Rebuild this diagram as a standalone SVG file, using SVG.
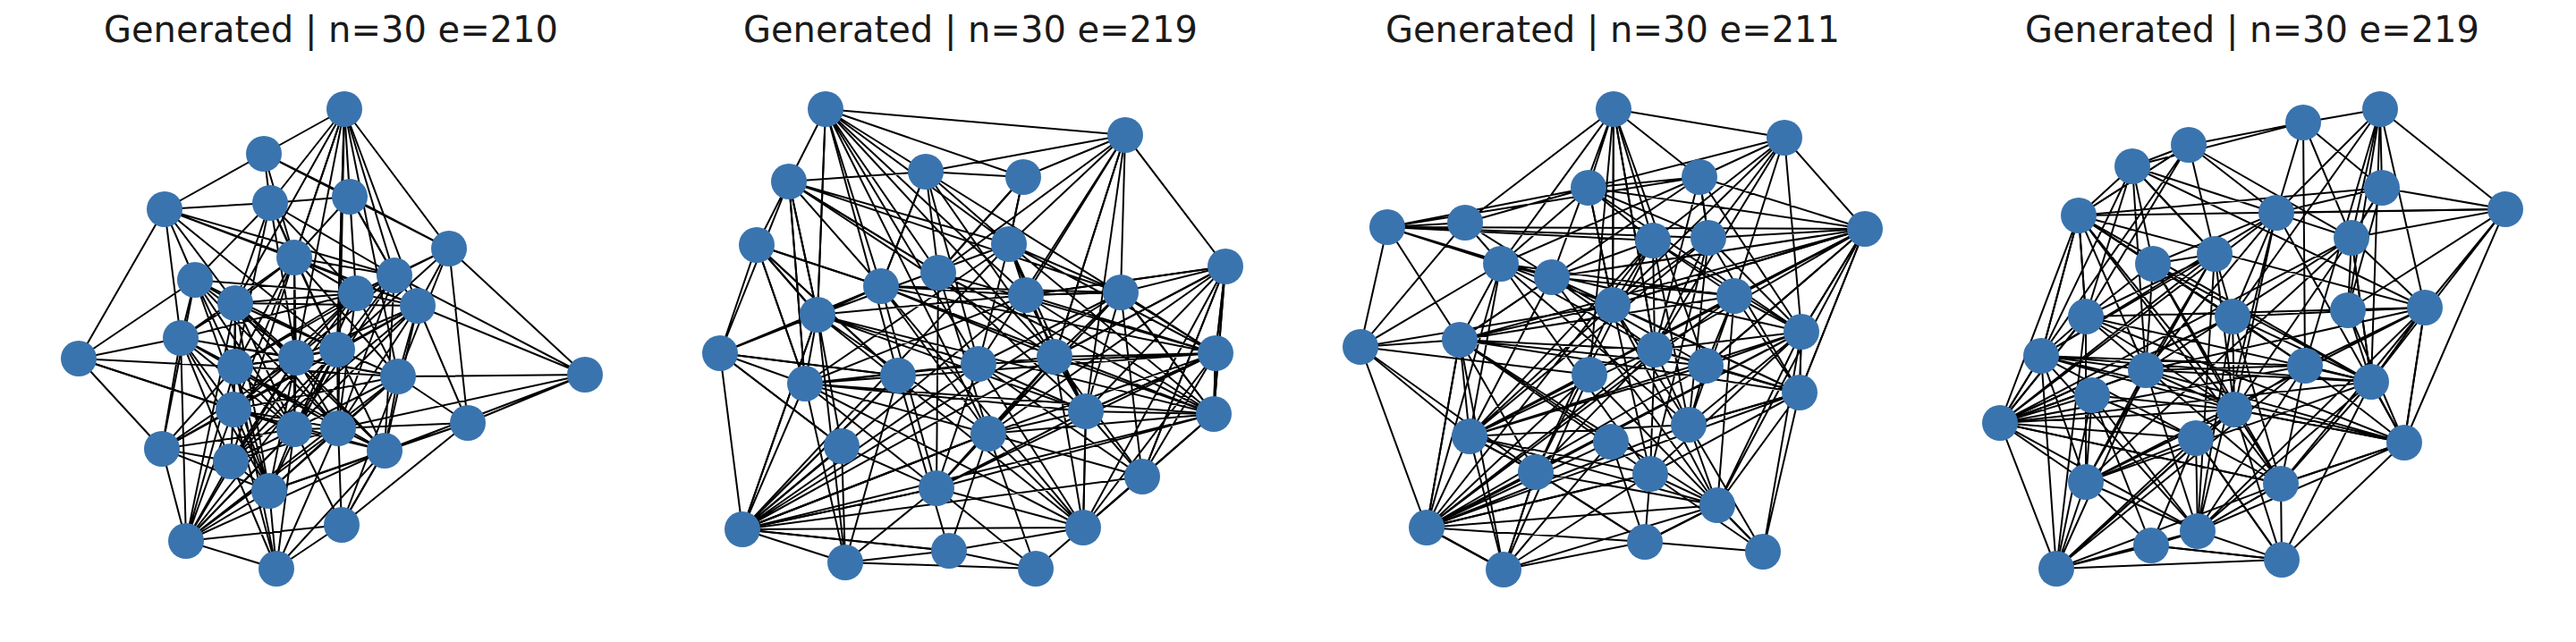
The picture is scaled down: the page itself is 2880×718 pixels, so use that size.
<svg xmlns="http://www.w3.org/2000/svg" width="2880" height="718" viewBox="0 0 2880 718">
<style>
.t{font-family:"DejaVu Sans","Liberation Sans",sans-serif;font-size:40px;fill:#1a1a1a;text-anchor:middle}
.e{fill:none;stroke:#000;stroke-width:2;stroke-linejoin:round;stroke-linecap:round}
.n circle{fill:#3a74ae}
</style>
<rect width="2880" height="718" fill="#fff"/>
<text class="t" x="370" y="47">Generated | n=30 e=210</text>
<text class="t" x="1085" y="47">Generated | n=30 e=219</text>
<text class="t" x="1803" y="47">Generated | n=30 e=211</text>
<text class="t" x="2518" y="47">Generated | n=30 e=219</text>
<g id="connectors">
<path class="e" d="M385 122L295 172L184 234L88 401L181 502L208 605L309 636L382 587L523 473L654 419L502 278L385 122L391 220L302 227L184 234L218 313L88 401L202 378L208 605L382 587L430 504L654 419L467 342L502 278L295 172L302 227L329 288L385 122L441 308L502 278L391 220L398 328L385 122L377 391L467 342L523 473L445 421L654 419L441 308L391 220L295 172L329 288L263 339L184 234L202 378L181 502L261 458L88 401L263 410L208 605L258 516L309 636L329 480L382 587L378 479L523 473L301 549L208 605L261 458L263 339L218 313L302 227L398 328L441 308L467 342L445 421L430 504L382 587L309 636L301 549L329 480L331 400L377 391L441 308L329 288L398 328L378 479L430 504L523 473L502 278L398 328L331 400L218 313L202 378L263 410L258 516L261 458L329 480L208 605L263 339L331 400L378 479L654 419"/>
<path class="e" d="M329 288L377 391L329 480L263 410L263 339L377 391L445 421L378 479L301 549L331 400L261 458L202 378L263 339L467 342L430 504L329 480L258 516L181 502L218 313L263 410L331 400L467 342L398 328L445 421L331 400L430 504L263 410L378 479L377 391L258 516L301 549L263 410L329 288L261 458L378 479L467 342L181 502L377 391L261 458L301 549L181 502L263 410L398 328L329 288L329 480L445 421L329 288L258 516L331 400L445 421L301 549L377 391L218 313L398 328L261 458L430 504L377 391L302 227L331 400L181 502L329 480L202 378L331 400L329 288L202 378L301 549L430 504L441 308L329 480L263 339L378 479L441 308L261 458L467 342L329 480L377 391L263 410L445 421L202 378L378 479L218 313L377 391L263 339L263 410L430 504L263 339L301 549L218 313L329 480L398 328L258 516L467 342L184 234L441 308L263 410L302 227L377 391L184 234L329 288L391 220L441 308L302 227L263 339L398 328L202 378L258 516L378 479L329 480L467 342L329 288L445 421L261 458L263 410"/>
<path class="e" d="M88 401L329 480L208 605L430 504L382 587L445 421L502 278L377 391L385 122L329 288"/>
<path class="e" d="M302 227L385 122L263 339M385 122L467 342M385 122L331 400M385 122L445 421M385 122L378 479M208 605L331 400M208 605L445 421M208 605L377 391M208 605L378 479M309 636L261 458M309 636L263 410M309 636L378 479M309 636L430 504"/>
<path class="e" d="M923 122L1258 151L1370 298L1359 395L1357 463L1277 533L1211 590L1158 636L945 629L830 592L805 395L846 274L882 203L923 122L1035 192L1258 151L1144 198L923 122L846 274L805 395L900 429L830 592L941 499L945 629L1061 616L1158 636L1277 533L1214 460L1370 298L1253 327L1258 151L1128 273L923 122L1049 305L1258 151L1147 330L1370 298L1357 463L1214 460L1359 395L1253 327L1179 399L1370 298L1277 533L1105 485L1158 636L1047 546L945 629L1004 420L805 395L882 203L985 320L923 122L1147 330L1253 327L1357 463L1211 590L1061 616L830 592L1047 546L941 499L805 395L914 352L923 122L1144 198L1035 192L882 203L914 352L846 274L985 320L1035 192L1128 273L1144 198L1049 305L882 203L900 429L846 274L1004 420L830 592L1105 485L1061 616L1211 590L1214 460L1179 399L1258 151"/>
<path class="e" d="M1128 273L1179 399L1357 463L1359 395L985 320L1179 399L900 429L1105 485L1211 590L1094 407L1214 460L914 352L985 320L1253 327L1047 546L1357 463L830 592L1277 533L1370 298L1359 395L1094 407L1253 327L1147 330L900 429L1094 407L1047 546L1359 395L1105 485L1179 399L830 592L1211 590L1359 395L1128 273L1214 460L1105 485L1253 327L1277 533L1179 399L1214 460L1211 590L1277 533L1359 395L1147 330L1128 273L1357 463L900 429L1128 273L830 592L1094 407L900 429L1211 590L1179 399L1370 298L1147 330L1214 460L1047 546L1179 399L1035 192L1094 407L1277 533L1357 463L914 352L1094 407L1128 273L914 352L1211 590L1047 546L1049 305L1357 463L985 320L1105 485L1049 305L1214 460L1253 327L1357 463L1179 399L1359 395L900 429L914 352L1105 485L1370 298L1179 399L985 320L1359 395L1047 546L985 320L1211 590L1370 298L1357 463L1147 330L830 592L1253 327L882 203L1049 305L1359 395L1035 192L1179 399L882 203L1128 273L1144 198L1049 305L1035 192L985 320L1147 330L914 352L830 592L1105 485L1357 463L1253 327L1128 273L900 429L1214 460L1359 395"/>
<path class="e" d="M805 395L1004 420L846 274L914 352L941 499L805 395L985 320L846 274L900 429L882 203L914 352L945 629L900 429L1047 546L830 592L1004 420L1061 616"/>
<path class="e" d="M914 352L923 122L1004 420M923 122L1094 407M923 122L1179 399M923 122L1105 485M830 592L1061 616M830 592L1105 485M830 592L914 352M1179 399L1258 151L1214 460M1258 151L1094 407"/>
<path class="e" d="M1804 122L1995 154L2085 256L2012 439L1971 617L1839 606L1681 637L1595 590L1521 388L1551 254L1638 249L1804 122L1776 210L1995 154L1900 198L1804 122L1848 269L1995 154L1910 266L2085 256L2014 371L1971 617L1920 565L1839 606L1717 528L1681 637L1643 488L1595 590L1632 380L1521 388L1678 295L1551 254L1776 210L1638 249L1678 295L1804 122L1735 310L1551 254L1900 198L1776 210L1848 269L1939 331L2085 256L1900 198L1910 266L1803 341L1804 122L1850 391L1995 154L1939 331L2014 371L2012 439L1920 565L1845 530L1681 637L1801 494L1595 590L1717 528L1643 488L1521 388L1638 249L1735 310L1632 380L1551 254L1848 269L1803 341L1776 210L1678 295L1632 380L1643 488L1777 419L1595 590L1839 606L1971 617L1888 475L2012 439L1907 409L2085 256L1803 341L1995 154L2014 371L1910 266"/>
<path class="e" d="M2085 256L2014 371L1643 488L1850 391L1678 295L2014 371L1907 409L1888 475L1595 590L1632 380L2012 439L1939 331L1678 295L1803 341L1845 530L1643 488L1920 565L1717 528L1848 269L1850 391L1632 380L1803 341L1735 310L1907 409L1632 380L1845 530L1850 391L1888 475L2014 371L1920 565L1595 590L1850 391L2085 256L2012 439L1888 475L1803 341L1717 528L2014 371L2012 439L1595 590L1717 528L1850 391L1735 310L2085 256L1643 488L1907 409L2085 256L1920 565L1632 380L1907 409L1595 590L2014 371L1848 269L1735 310L2012 439L1845 530L2014 371L1900 198L1632 380L1717 528L1643 488L1939 331L1632 380L2085 256L1939 331L1595 590L1845 530L1910 266L1643 488L1678 295L1888 475L1910 266L2012 439L1803 341L1643 488L2014 371L1850 391L1907 409L1939 331L1888 475L1848 269L2014 371L1678 295L1850 391L1845 530L1678 295L1595 590L1848 269L1643 488L1735 310L1920 565L1803 341L1776 210L1910 266L1850 391L1900 198L2014 371L1776 210L2085 256L1551 254L1910 266L1900 198L1678 295L1735 310L1939 331L1920 565L1888 475L1643 488L1803 341L2085 256L1907 409L2012 439L1850 391"/>
<path class="e" d="M1681 637L1777 419L1971 617L1845 530L1595 590L1681 637L1717 528L1839 606L1920 565L1681 637L1632 380L1801 494L1839 606L1845 530"/>
<path class="e" d="M1803 341L1804 122L1850 391M1804 122L1777 419M1804 122L1907 409M1521 388L1803 341M1521 388L1777 419M1521 388L1717 528"/>
<path class="e" d="M2661 122L2575 137L2447 162L2384 186L2324 241L2236 473L2299 636L2551 626L2688 495L2801 234L2661 122L2663 210L2801 234L2711 344L2688 495L2651 427L2551 626L2405 610L2299 636L2332 539L2236 473L2282 398L2324 241L2332 354L2236 473L2339 442L2299 636L2457 594L2551 626L2550 541L2688 495L2625 347L2801 234L2629 266L2661 122L2711 344L2651 427L2801 234L2545 238L2661 122L2577 409L2575 137L2384 186L2407 295L2324 241L2447 162L2545 238L2575 137L2663 210L2629 266L2711 344L2625 347L2651 427L2550 541L2498 458L2551 626L2455 490L2299 636L2399 414L2236 473L2332 539L2405 610L2457 594L2550 541L2577 409L2688 495L2498 458L2299 636L2282 398L2332 354L2384 186L2476 284L2447 162L2575 137L2629 266L2625 347L2663 210L2545 238L2496 354L2577 409L2651 427L2629 266"/>
<path class="e" d="M2324 241L2282 398L2498 458L2399 414L2476 284L2282 398L2577 409L2236 473L2457 594L2711 344L2651 427L2496 354L2476 284L2332 354L2332 539L2498 458L2550 541L2688 495L2545 238L2399 414L2711 344L2332 354L2407 295L2577 409L2711 344L2332 539L2399 414L2236 473L2282 398L2550 541L2457 594L2399 414L2324 241L2651 427L2236 473L2332 354L2688 495L2282 398L2651 427L2457 594L2688 495L2399 414L2407 295L2324 241L2498 458L2577 409L2324 241L2550 541L2711 344L2577 409L2457 594L2282 398L2545 238L2407 295L2651 427L2332 539L2282 398L2384 186L2711 344L2688 495L2498 458L2496 354L2711 344L2324 241L2496 354L2457 594L2332 539L2629 266L2498 458L2476 284L2236 473L2629 266L2651 427L2332 354L2498 458L2282 398L2399 414L2577 409L2496 354L2236 473L2545 238L2282 398L2476 284L2399 414L2332 539L2476 284L2457 594L2545 238L2498 458L2407 295L2550 541L2332 354L2447 162L2629 266L2399 414L2384 186L2282 398L2447 162L2324 241L2663 210L2629 266L2384 186L2476 284L2407 295L2496 354L2550 541L2236 473L2498 458L2332 354L2324 241L2577 409L2651 427L2399 414"/>
<path class="e" d="M2324 241L2801 234M2339 442L2455 490L2405 610L2339 442L2332 539L2455 490L2457 594L2339 442L2498 458L2455 490L2551 626L2405 610"/>
<path class="e" d="M2332 354L2299 636L2498 458M2299 636L2550 541M2299 636L2577 409M2625 347L2661 122L2651 427M2661 122L2496 354M2236 473L2496 354M2236 473L2550 541M2236 473L2455 490"/>
</g>
<g class="n">
<g id="a1"><circle cx="385" cy="122" r="20"/></g>
<g id="a2"><circle cx="295" cy="172" r="20"/></g>
<g id="a3"><circle cx="184" cy="234" r="20"/></g>
<g id="a4"><circle cx="302" cy="227" r="20"/></g>
<g id="a5"><circle cx="391" cy="220" r="20"/></g>
<g id="a6"><circle cx="502" cy="278" r="20"/></g>
<g id="a7"><circle cx="329" cy="288" r="20"/></g>
<g id="a8"><circle cx="218" cy="313" r="20"/></g>
<g id="a9"><circle cx="441" cy="308" r="20"/></g>
<g id="a10"><circle cx="263" cy="339" r="20"/></g>
<g id="a11"><circle cx="398" cy="328" r="20"/></g>
<g id="a12"><circle cx="467" cy="342" r="20"/></g>
<g id="a13"><circle cx="202" cy="378" r="20"/></g>
<g id="a14"><circle cx="88" cy="401" r="20"/></g>
<g id="a15"><circle cx="331" cy="400" r="20"/></g>
<g id="a16"><circle cx="377" cy="391" r="20"/></g>
<g id="a17"><circle cx="263" cy="410" r="20"/></g>
<g id="a18"><circle cx="445" cy="421" r="20"/></g>
<g id="a19"><circle cx="654" cy="419" r="20"/></g>
<g id="a20"><circle cx="261" cy="458" r="20"/></g>
<g id="a21"><circle cx="329" cy="480" r="20"/></g>
<g id="a22"><circle cx="378" cy="479" r="20"/></g>
<g id="a23"><circle cx="523" cy="473" r="20"/></g>
<g id="a24"><circle cx="181" cy="502" r="20"/></g>
<g id="a25"><circle cx="430" cy="504" r="20"/></g>
<g id="a26"><circle cx="258" cy="516" r="20"/></g>
<g id="a27"><circle cx="301" cy="549" r="20"/></g>
<g id="a28"><circle cx="382" cy="587" r="20"/></g>
<g id="a29"><circle cx="208" cy="605" r="20"/></g>
<g id="a30"><circle cx="309" cy="636" r="20"/></g>
<g id="b1"><circle cx="923" cy="122" r="20"/></g>
<g id="b2"><circle cx="1258" cy="151" r="20"/></g>
<g id="b3"><circle cx="882" cy="203" r="20"/></g>
<g id="b4"><circle cx="1035" cy="192" r="20"/></g>
<g id="b5"><circle cx="1144" cy="198" r="20"/></g>
<g id="b6"><circle cx="846" cy="274" r="20"/></g>
<g id="b7"><circle cx="1128" cy="273" r="20"/></g>
<g id="b8"><circle cx="1370" cy="298" r="20"/></g>
<g id="b9"><circle cx="1049" cy="305" r="20"/></g>
<g id="b10"><circle cx="985" cy="320" r="20"/></g>
<g id="b11"><circle cx="1147" cy="330" r="20"/></g>
<g id="b12"><circle cx="1253" cy="327" r="20"/></g>
<g id="b13"><circle cx="914" cy="352" r="20"/></g>
<g id="b14"><circle cx="805" cy="395" r="20"/></g>
<g id="b15"><circle cx="1094" cy="407" r="20"/></g>
<g id="b16"><circle cx="1179" cy="399" r="20"/></g>
<g id="b17"><circle cx="1359" cy="395" r="20"/></g>
<g id="b18"><circle cx="900" cy="429" r="20"/></g>
<g id="b19"><circle cx="1004" cy="420" r="20"/></g>
<g id="b20"><circle cx="1214" cy="460" r="20"/></g>
<g id="b21"><circle cx="1357" cy="463" r="20"/></g>
<g id="b22"><circle cx="1105" cy="485" r="20"/></g>
<g id="b23"><circle cx="941" cy="499" r="20"/></g>
<g id="b24"><circle cx="1277" cy="533" r="20"/></g>
<g id="b25"><circle cx="1047" cy="546" r="20"/></g>
<g id="b26"><circle cx="830" cy="592" r="20"/></g>
<g id="b27"><circle cx="1211" cy="590" r="20"/></g>
<g id="b28"><circle cx="1061" cy="616" r="20"/></g>
<g id="b29"><circle cx="945" cy="629" r="20"/></g>
<g id="b30"><circle cx="1158" cy="636" r="20"/></g>
<g id="c1"><circle cx="1804" cy="122" r="20"/></g>
<g id="c2"><circle cx="1995" cy="154" r="20"/></g>
<g id="c3"><circle cx="1776" cy="210" r="20"/></g>
<g id="c4"><circle cx="1900" cy="198" r="20"/></g>
<g id="c5"><circle cx="1551" cy="254" r="20"/></g>
<g id="c6"><circle cx="1638" cy="249" r="20"/></g>
<g id="c7"><circle cx="2085" cy="256" r="20"/></g>
<g id="c8"><circle cx="1848" cy="269" r="20"/></g>
<g id="c9"><circle cx="1910" cy="266" r="20"/></g>
<g id="c10"><circle cx="1678" cy="295" r="20"/></g>
<g id="c11"><circle cx="1735" cy="310" r="20"/></g>
<g id="c12"><circle cx="1803" cy="341" r="20"/></g>
<g id="c13"><circle cx="1939" cy="331" r="20"/></g>
<g id="c14"><circle cx="1521" cy="388" r="20"/></g>
<g id="c15"><circle cx="1632" cy="380" r="20"/></g>
<g id="c16"><circle cx="2014" cy="371" r="20"/></g>
<g id="c17"><circle cx="1850" cy="391" r="20"/></g>
<g id="c18"><circle cx="1907" cy="409" r="20"/></g>
<g id="c19"><circle cx="1777" cy="419" r="20"/></g>
<g id="c20"><circle cx="2012" cy="439" r="20"/></g>
<g id="c21"><circle cx="1643" cy="488" r="20"/></g>
<g id="c22"><circle cx="1888" cy="475" r="20"/></g>
<g id="c23"><circle cx="1801" cy="494" r="20"/></g>
<g id="c24"><circle cx="1717" cy="528" r="20"/></g>
<g id="c25"><circle cx="1845" cy="530" r="20"/></g>
<g id="c26"><circle cx="1920" cy="565" r="20"/></g>
<g id="c27"><circle cx="1595" cy="590" r="20"/></g>
<g id="c28"><circle cx="1839" cy="606" r="20"/></g>
<g id="c29"><circle cx="1971" cy="617" r="20"/></g>
<g id="c30"><circle cx="1681" cy="637" r="20"/></g>
<g id="d1"><circle cx="2661" cy="122" r="20"/></g>
<g id="d2"><circle cx="2575" cy="137" r="20"/></g>
<g id="d3"><circle cx="2447" cy="162" r="20"/></g>
<g id="d4"><circle cx="2384" cy="186" r="20"/></g>
<g id="d5"><circle cx="2663" cy="210" r="20"/></g>
<g id="d6"><circle cx="2801" cy="234" r="20"/></g>
<g id="d7"><circle cx="2324" cy="241" r="20"/></g>
<g id="d8"><circle cx="2545" cy="238" r="20"/></g>
<g id="d9"><circle cx="2629" cy="266" r="20"/></g>
<g id="d10"><circle cx="2476" cy="284" r="20"/></g>
<g id="d11"><circle cx="2407" cy="295" r="20"/></g>
<g id="d12"><circle cx="2332" cy="354" r="20"/></g>
<g id="d13"><circle cx="2496" cy="354" r="20"/></g>
<g id="d14"><circle cx="2625" cy="347" r="20"/></g>
<g id="d15"><circle cx="2711" cy="344" r="20"/></g>
<g id="d16"><circle cx="2282" cy="398" r="20"/></g>
<g id="d17"><circle cx="2399" cy="414" r="20"/></g>
<g id="d18"><circle cx="2577" cy="409" r="20"/></g>
<g id="d19"><circle cx="2339" cy="442" r="20"/></g>
<g id="d20"><circle cx="2651" cy="427" r="20"/></g>
<g id="d21"><circle cx="2498" cy="458" r="20"/></g>
<g id="d22"><circle cx="2236" cy="473" r="20"/></g>
<g id="d23"><circle cx="2455" cy="490" r="20"/></g>
<g id="d24"><circle cx="2688" cy="495" r="20"/></g>
<g id="d25"><circle cx="2332" cy="539" r="20"/></g>
<g id="d26"><circle cx="2550" cy="541" r="20"/></g>
<g id="d27"><circle cx="2457" cy="594" r="20"/></g>
<g id="d28"><circle cx="2405" cy="610" r="20"/></g>
<g id="d29"><circle cx="2551" cy="626" r="20"/></g>
<g id="d30"><circle cx="2299" cy="636" r="20"/></g>
</g>
</svg>
